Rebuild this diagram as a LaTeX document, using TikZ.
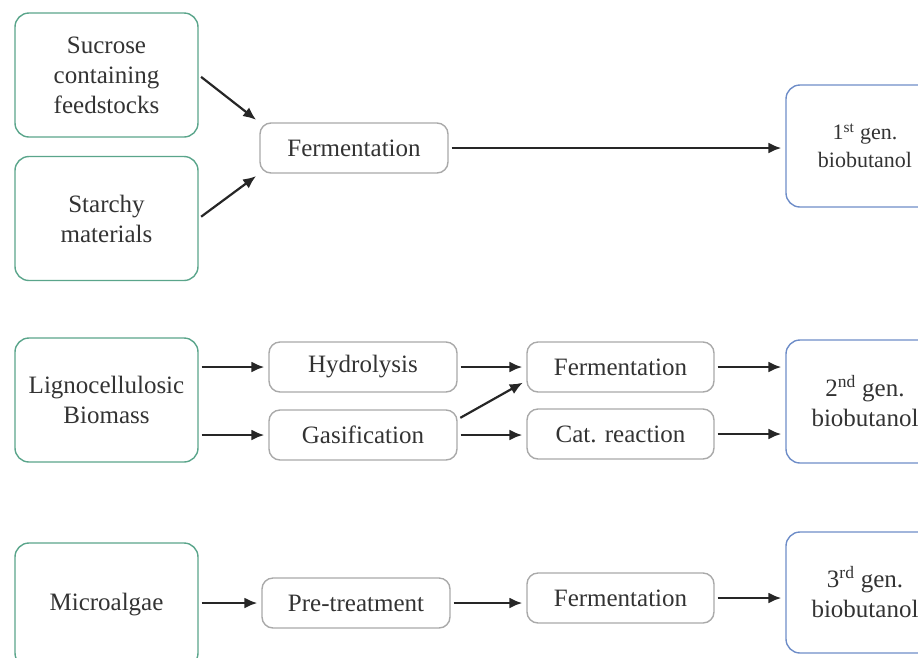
\documentclass[tikz,border=0pt]{standalone}
\usepackage{fontspec}
\setmainfont{Liberation Serif}
\usetikzlibrary{arrows.meta}
\definecolor{feedgreen}{HTML}{5AA58B}
\definecolor{prodblue}{HTML}{6E8DC8}
\definecolor{stepgray}{HTML}{A9A9A9}
\definecolor{inkgray}{HTML}{333333}
\tikzset{
	every box/.style={
		rectangle,
		draw,
		line width=1.4pt,
		align=center,
		text=inkgray,
		font=\fontsize{25}{30}\selectfont
	},
	feed box/.style={
		every box,
		draw=feedgreen,
		rounded corners=14pt,
		minimum width=183pt,
		minimum height=124pt
	},
	process box/.style={
		every box,
		draw=stepgray,
		rounded corners=11pt,
		minimum width=188pt,
		minimum height=50pt
	},
	product box/.style={
		every box,
		draw=prodblue,
		rounded corners=14pt,
		minimum width=158pt,
		minimum height=122pt
	},
	flow/.style={
		->,
		line width=2.2pt,
		draw=black!85,
		shorten <=3pt,
		shorten >=4pt
	},
}

\begin{document}
\begin{tikzpicture}[x=1pt, y=-1pt, >={Latex[length=13pt,width=11pt]}]
\useasboundingbox (0,0) rectangle (918,657);
\clip (0,0) rectangle (918,657);

% feedstocks
\node [feed box] (sucrose) at (106.5,75) {Sucrose\\containing\\feedstocks};
\node [feed box] (starchy) at (106.5,218.5) {Starchy\\materials};
\node [feed box] (ligno) at (106.5,400) {Lignocellulosic\\Biomass};
\node [feed box] (algae) at (106.5,605) {Microalgae};

% conversion steps
\node [process box] (ferm-1) at (354,148) {Fermentation};
\node [process box] (hydro) at (363,367) {Hydrolysis};
\node [process box] (gasif) at (363,435) {Gasification};
\node [process box, minimum width=187pt] (ferm-2) at (620.5,367) {Fermentation};
\node [process box, minimum width=187pt] (catal) at (620.5,434) {Cat. reaction};
\node [process box] (pretr) at (356,603) {Pre-treatment};
\node [process box, minimum width=187pt] (ferm-3) at (620.5,598) {Fermentation};

% products
\node [product box, font=\fontsize{22}{28}\selectfont] (gen-1) at (865,146) {1\textsuperscript{st} gen.\\biobutanol};
\node [product box, minimum height=123pt] (gen-2) at (865,401.5) {2\textsuperscript{nd} gen.\\biobutanol};
\node [product box, minimum height=121pt] (gen-3) at (865,592.5) {3\textsuperscript{rd} gen.\\biobutanol};

\draw [flow] (sucrose.east) -- (ferm-1.north west);
\draw [flow] (starchy.east) -- (ferm-1.south west);
\draw [flow] ([yshift=-10pt]gasif.north east) -- ([yshift=12pt]ferm-2.south west);

\foreach \a/\b in {ligno/hydro, ligno/gasif, algae/pretr}
	\draw [flow] (\a.east |- \b) -- (\b.west);

\foreach \a/\b in {ferm-1/gen-1, hydro/ferm-2, gasif/catal, ferm-2/gen-2, catal/gen-2, pretr/ferm-3, ferm-3/gen-3}
	\draw [flow] (\a.east) -- (\a.east -| \b.west);

\end{tikzpicture}
\end{document}
